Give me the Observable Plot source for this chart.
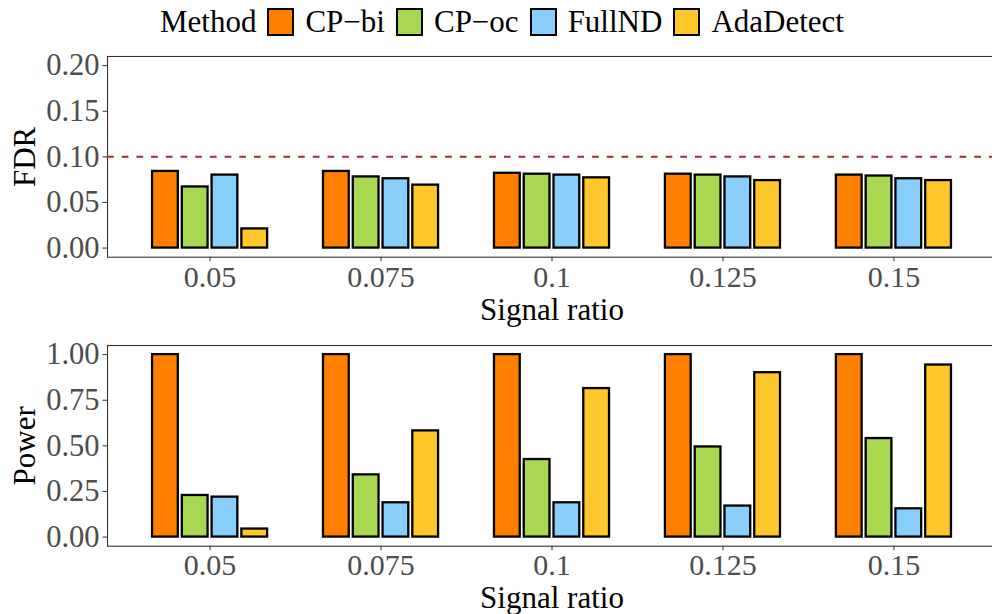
<!DOCTYPE html>
<html>
<head>
<meta charset="utf-8">
<script src="https://cdn.jsdelivr.net/npm/d3@7"></script>
<script src="https://cdn.jsdelivr.net/npm/@observablehq/plot@0.6"></script>
<style>
  html, body { margin: 0; padding: 0; background: #fff; overflow: hidden; }
  body { width: 992px; height: 614px; font-family: "Liberation Serif", "DejaVu Serif", serif; }
  #legend { height: 45px; box-sizing: border-box; padding-left: 160px; padding-bottom: 2px;
            display: flex; align-items: center; font-size: 31px; color: #000; }
  #legend .key { width: 23px; height: 24px; border: 2px solid #000; margin-left: 11px; margin-right: 11px; }
  .panel { position: relative; width: 992px; }
  .panel svg { position: absolute; left: 0; top: 0; overflow: visible; }
  .panel svg, .panel svg g, .panel svg text { font-family: "Liberation Serif", "DejaVu Serif", serif !important; font-variant: normal !important; }
  g[aria-label="y-axis label"], g[aria-label="x-axis label"] { fill: #000 !important; }
  g[aria-label="y-axis label"] text, g[aria-label="x-axis label"] text { fill: #000; font-size: 31px; }
</style>
</head>
<body>
<div id="legend"></div>
<div class="panel" id="p1" style="height:290px"></div>
<div class="panel" id="p2" style="height:279px"></div>
<script>
// ---- data ----
const ratios = ["0.05", "0.075", "0.1", "0.125", "0.15"];
const methods = ["CP\u2212bi", "CP\u2212oc", "FullND", "AdaDetect"];
const methodColors = ["#FF7F00", "#A8D752", "#87CEFA", "#FFC72C"];

const fdrCPbi      = [0.084, 0.084, 0.082, 0.081, 0.080];
const fdrCPoc      = [0.067, 0.078, 0.081, 0.080, 0.079];
const fdrFullND    = [0.080, 0.076, 0.080, 0.078, 0.076];
const fdrAdaDetect = [0.021, 0.069, 0.077, 0.074, 0.074];

const powCPbi      = [1.000, 1.000, 1.000, 1.000, 1.000];
const powCPoc      = [0.228, 0.341, 0.425, 0.494, 0.540];
const powFullND    = [0.219, 0.188, 0.188, 0.170, 0.155];
const powAdaDetect = [0.044, 0.582, 0.814, 0.901, 0.943];

const fdrTicks = [0, 0.05, 0.10, 0.15, 0.20];
const powTicks = [0, 0.25, 0.50, 0.75, 1.00];
const fdrTarget = 0.1;

const fdrSeries = [fdrCPbi, fdrCPoc, fdrFullND, fdrAdaDetect];
const powSeries = [powCPbi, powCPoc, powFullND, powAdaDetect];
const rows = ratios.flatMap((r, i) => methods.map((m, j) => ({
  ratio: r, method: m, fdr: fdrSeries[j][i], power: powSeries[j][i]
})));

// ---- legend ----
const legend = document.getElementById("legend");
const title = document.createElement("span");
title.textContent = "Method";
legend.appendChild(title);
methods.forEach((m, j) => {
  const k = document.createElement("span");
  k.className = "key";
  k.style.background = methodColors[j];
  legend.appendChild(k);
  const t = document.createElement("span");
  t.textContent = m;
  legend.appendChild(t);
});

// ---- panels ----
const FONT = "'Liberation Serif', serif";
function panel(el, {height, marginTop, marginBottom, key, yDomain, ticks, label, extra = [], labelOffsetX, tickPaddingX}) {
  const common = {
    width: 992, height, marginLeft: 107, marginRight: -4, marginTop, marginBottom,
    style: {fontFamily: FONT, background: "transparent", overflow: "visible"}
  };
  const axesPlot = Plot.plot({
    ...common,
    x: {type: "band", domain: ratios, paddingInner: 0, paddingOuter: 0.1, round: false, axis: null},
    y: {domain: yDomain, axis: null},
    marks: [
      Plot.frame({stroke: "#333", strokeWidth: 1.1}),
      ...extra,
      Plot.axisY({ticks, tickFormat: d3.format(".2f"), tickSize: 4.5, tickPadding: 3.5,
                  fontSize: 30.5, stroke: "#333", fill: "#4D4D4D", fontFamily: FONT,
                  label, labelAnchor: "center", labelArrow: "none", labelOffset: 95}),
      Plot.axisX({tickSize: 4.5, tickPadding: tickPaddingX, fontSize: 30, stroke: "#333", fill: "#4D4D4D", fontFamily: FONT,
                  label: "Signal ratio", labelAnchor: "center", labelArrow: "none", labelOffset: labelOffsetX})
    ]
  });
  const barsPlot = Plot.plot({
    ...common,
    fx: {domain: ratios, paddingInner: 0.327, paddingOuter: 0.2635, round: false, axis: null, label: null},
    x: {type: "band", domain: methods, paddingInner: 0.135, paddingOuter: 0, round: false, axis: null},
    y: {domain: yDomain, axis: null},
    color: {domain: methods, range: methodColors},
    marks: [
      Plot.barY(rows, {fx: "ratio", x: "method", y: key, fill: "method",
                       stroke: "#000", strokeWidth: 2.3})
    ]
  });
  el.appendChild(barsPlot);
  el.appendChild(axesPlot);
}

panel(document.getElementById("p1"), {
  height: 290, marginTop: 11, marginBottom: 78.3, key: "fdr",
  yDomain: [-0.01, 0.21], ticks: fdrTicks, label: "FDR", labelOffsetX: 63, tickPaddingX: 3.5,
  extra: [Plot.ruleY([fdrTarget], {stroke: "#BE1E2D", strokeWidth: 2, strokeDasharray: "6.7,8"})]
});
panel(document.getElementById("p2"), {
  height: 279, marginTop: 10, marginBottom: 68.3, key: "power",
  yDomain: [-0.05, 1.05], ticks: powTicks, label: "Power", labelOffsetX: 61.5, tickPaddingX: 2.5
});
</script>
</body>
</html>
